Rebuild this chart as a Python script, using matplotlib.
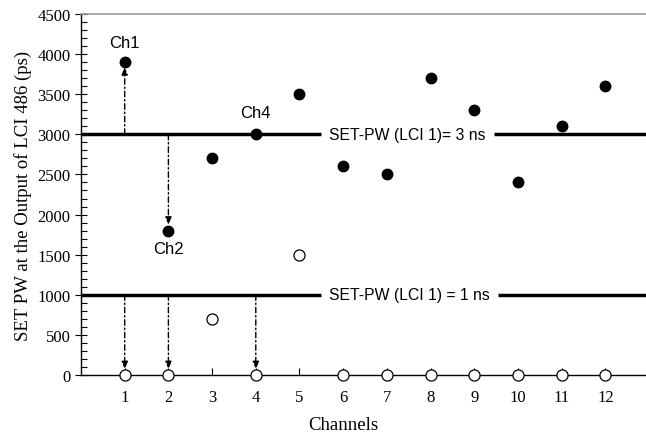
import matplotlib
matplotlib.use("Agg")
import matplotlib.pyplot as plt
from matplotlib.ticker import MultipleLocator

channels = [1, 2, 3, 4, 5, 6, 7, 8, 9, 10, 11, 12]
pw_3ns = [3900, 1800, 2700, 3000, 3500, 2600, 2500, 3700, 3300, 2400, 3100, 3600]
pw_1ns = [0, 0, 700, 0, 1500, 0, 0, 0, 0, 0, 0, 0]
ref_levels = [3000, 1000]
ref_labels = ["SET-PW (LCI 1)= 3 ns", "SET-PW (LCI 1) = 1 ns"]
ref_gap_end = [9.45, 9.55]
# arrows: (channel, start, end)
arrows = [(1, 3000, 3900), (2, 3000, 1800), (1, 1000, 0), (2, 1000, 0), (4, 1000, 0)]
ch_labels = [("Ch1", 1, 4150), ("Ch2", 2, 1580), ("Ch4", 4, 3270)]

serif = ["Liberation Serif", "DejaVu Serif"]
sans = ["Liberation Sans", "DejaVu Sans"]

fig = plt.figure(figsize=(6.46, 4.35), dpi=100)
ax = fig.add_axes([0.1254, 0.1356, 0.8746, 0.83])
ax.set_xlim(0, 12.93)
ax.set_ylim(0, 4500)

# reference lines with gaps for text
for lvl, lab, g in zip(ref_levels, ref_labels, ref_gap_end):
    ax.plot([0, 5.5], [lvl, lvl], color="black", lw=2.5, solid_capstyle="butt", zorder=2)
    ax.plot([g, 12.93], [lvl, lvl], color="black", lw=2.5, solid_capstyle="butt", zorder=2)
    ax.text(5.68, lvl, lab, ha="left", va="center", fontsize=11.3, family=sans)

# arrows
for ch, y0, y1 in arrows:
    ax.annotate("", xy=(ch, y1 + (-60 if y1 > y0 else 70)), xytext=(ch, y0),
                arrowprops=dict(arrowstyle="-|>,head_length=0.45,head_width=0.18",
                                linestyle=(0, (4, 2, 1, 2)), color="black", lw=1.0,
                                shrinkA=0, shrinkB=0), zorder=3)

ax.plot(channels, pw_3ns, "o", color="black", ms=7.5, zorder=4, clip_on=False)
ax.plot(channels, pw_1ns, "o", mfc="white", mec="black", mew=0.9, ms=8, zorder=4, clip_on=False)

for t, x, y in ch_labels:
    ax.text(x, y, t, ha="center", va="center", fontsize=12, family=sans)

# spines
ax.spines["right"].set_visible(False)
ax.spines["top"].set_color("#999999")
ax.spines["top"].set_linewidth(1.2)
ax.spines["left"].set_linewidth(1.0)
ax.spines["bottom"].set_linewidth(1.0)

ax.set_xticks(channels)
ax.set_xticklabels([str(c) for c in channels], family=serif, fontsize=12)
ax.tick_params(axis="x", direction="in", length=5, pad=10, width=0.8)

ax.yaxis.set_major_locator(MultipleLocator(500))
ax.yaxis.set_minor_locator(MultipleLocator(100))
ax.tick_params(axis="y", which="major", direction="inout", length=8, width=0.8, labelsize=12)
ax.tick_params(axis="y", which="minor", direction="in", length=4, width=0.8)
for lbl in ax.get_yticklabels():
    lbl.set_family(serif)

ax.set_xlabel("Channels", family=serif, fontsize=13.5)
ax.xaxis.set_label_coords(0.465, -0.113)
ax.set_ylabel("SET PW at the Output of LCI 486 (ps)", family=serif, fontsize=13.5, labelpad=4)

fig.savefig("out.png", dpi=100)
